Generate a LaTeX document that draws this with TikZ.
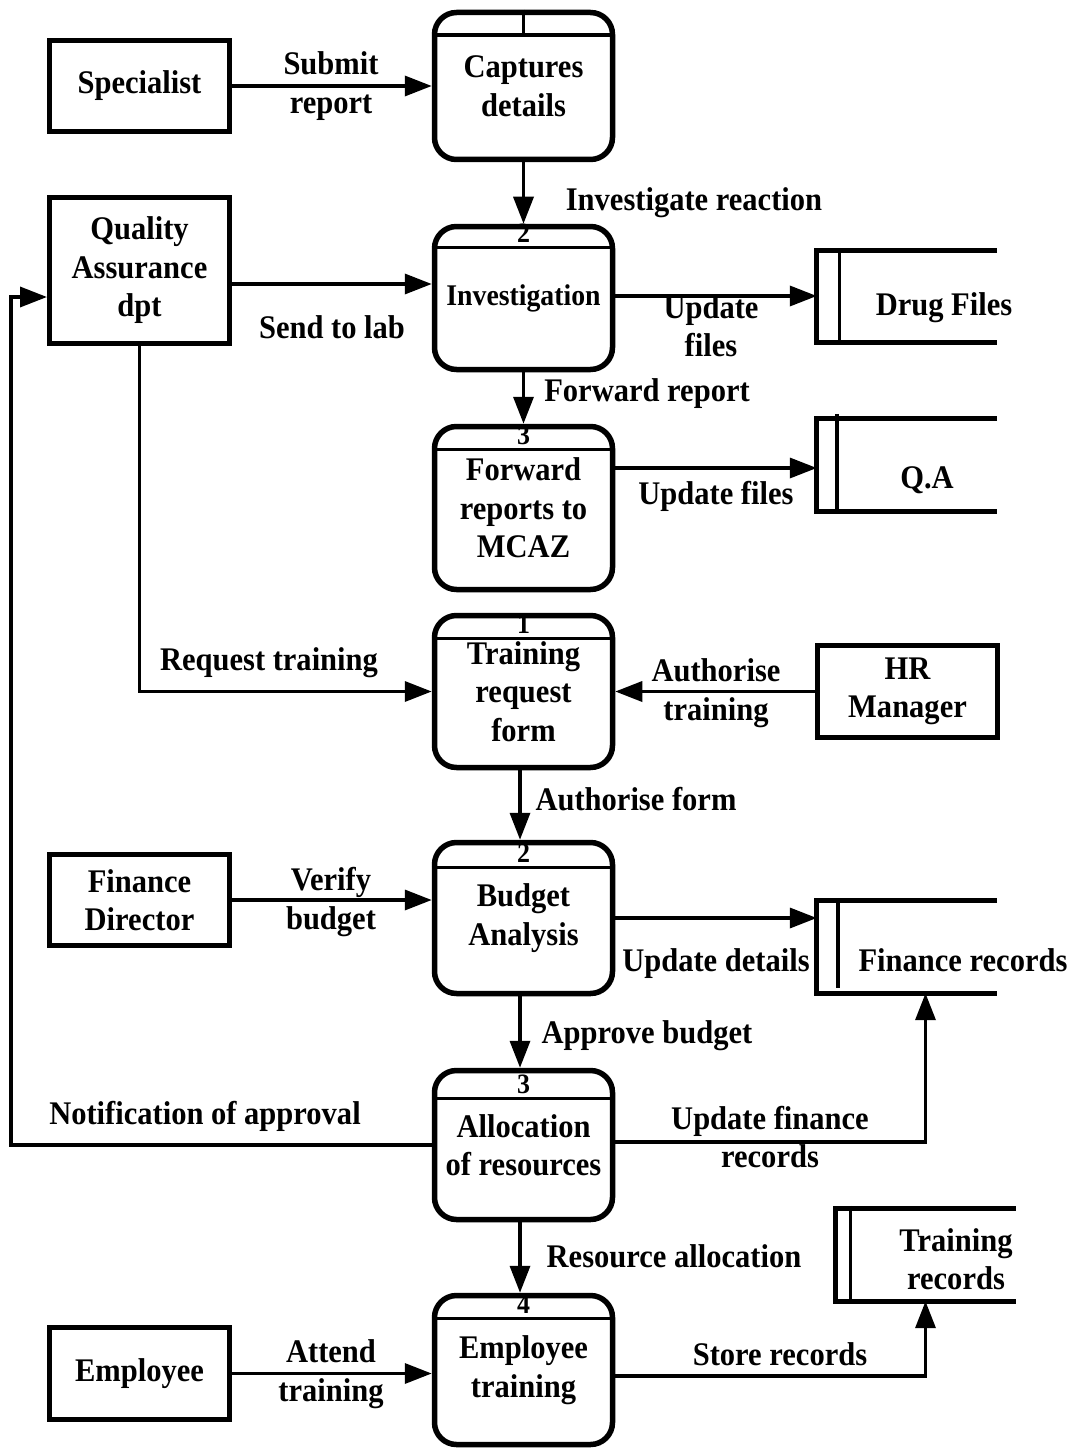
\documentclass[tikz,border=0pt]{standalone}
\usepackage{fontspec}
\setmainfont[FakeStretch=0.925]{Liberation Serif}
\usetikzlibrary{arrows.meta,calc}

\tikzset{
  txt/.style={font=\bfseries\fontsize{33}{38.5}\selectfont, align=center, inner sep=0pt},
  entity/.style={txt, draw, line width=5pt, minimum width=180pt},
  proc/.style={txt, draw, line width=5.5pt, rounded corners=22pt, minimum width=178pt},
  store/.style={draw=none, minimum width=180pt, minimum height=92pt, inner sep=0pt},
  storeline/.style={line width=5pt},
  divider/.style={line width=3.5pt},
  num/.style={font=\bfseries\fontsize{28}{30}\selectfont, inner sep=0pt, anchor=base},
  flow/.style={line width=3.5pt, -{Triangle[length=27pt,width=20pt]}},
  lbl/.style={txt}
}

\begin{document}
\begin{tikzpicture}[x=1pt, y=-1pt]
\useasboundingbox (0,0) rectangle (1081,1450);

% ---------- external entities ----------
\node[entity, minimum height=91pt]  (spec) at (139.5,86)  {Specialist};
\node[entity, minimum height=146pt] (qad)  at (139.5,270.5) {Quality\\Assurance\\dpt};
\node[entity, minimum height=92pt]  (hr)   at (907.5,691.5) {HR\\Manager};
\node[entity, minimum height=91pt]  (fd)   at (139.5,900) {Finance\\Director};
\node[entity, minimum height=92pt]  (emp)  at (139.5,1373.5) {Employee};

% ---------- processes ----------
\node[proc, minimum height=147pt] (p1) at (523.5,86)   {Captures\\details};
\node[proc, minimum height=143pt, font=\bfseries\fontsize{30}{36}\selectfont] (p2) at (523.5,298) {Investigation};
\node[proc, minimum height=163pt] (p3) at (523.5,508)  {Forward\\reports to\\MCAZ};
\node[proc, minimum height=152pt] (tr) at (523.5,691.5) {Training\\request\\form};
\node[proc, minimum height=151pt] (bud) at (523.5,918) {Budget\\Analysis};
\node[proc, minimum height=149pt] (al) at (523.5,1145)  {Allocation\\of resources};
\node[proc, minimum height=149pt] (et) at (523.5,1370)  {Employee\\training};

% header dividers and process numbers
\draw[divider] ($(p1.north west)+(0,25.5)$) -- ($(p1.north east)+(0,25.5)$);
\draw[divider] (p1.north) -- ($(p1.north)+(0,25.5)$);
\foreach \p/\d/\n in {p2/23.5/2, p3/25.5/3, tr/25.5/1, bud/27.5/2, al/30.5/3, et/25.5/4}{
  \draw[divider] ($(\p.north west)+(0,\d)$) -- ($(\p.north east)+(0,\d)$);
  \node[num] (\p num) at ($(\p.north)+(0,\d-4.5)$) {\n};
}

% ---------- data stores ----------
\node[store] (df)  at (907,296.5) {};
\node[store] (qas) at (907,465) {};
\node[store] (fr)  at (907,947) {};
\node[store] (trs) at (925.5,1255) {};

\foreach \s in {df, qas, fr, trs}{
  \draw[storeline] (\s.north east) -- (\s.north west) -- (\s.south west) -- (\s.south east);
}
\draw[divider] ($(df.north west)+(22.5,0)$) -- ($(df.south west)+(22.5,0)$);
\draw[divider] ($(qas.north west)+(20,-5)$) -- ($(qas.south west)+(20,0)$);
\draw[divider] ($(fr.north west)+(21,0)$) -- ($(fr.south west)+(21,-5)$);
\draw[divider] ($(trs.north west)+(15,-3)$) -- ($(trs.south west)+(15,0)$);

\node[txt] (dfT)  at (944,308)  {Drug Files};
\node[txt] (qasT) at (927,480)  {Q.A};
\node[txt] (frT)  at (963,960)  {Finance records};
\node[txt] (trsT) at (956,1259) {Training\\records};

% ---------- flow start points ----------
\coordinate (qadOut) at ($(qad.east)+(0,13.5)$);
\coordinate (p2Out)  at ($(p2.east)+(0,-2)$);
\coordinate (p3Out)  at ($(p3.east)+(0,-40)$);
\coordinate (alOut)  at ($(al.east)+(0,-3)$);
\coordinate (etOut)  at ($(et.east)+(0,6)$);
\coordinate (frIn)   at ($(fr.south)+(18.5,0)$);
\coordinate (qadIn)  at ($(qad.west)+(0,26.5)$);
\coordinate (loop)   at (11,1145);

% ---------- data flows ----------
\draw[flow] (spec) -- (p1);
\draw[flow] (p1) -- (p2);
\draw[flow] (qadOut) -- (qadOut -| p2.west);
\draw[flow] (p2Out) -- (p2Out -| df.west);
\draw[flow] (p2) -- (p3);
\draw[flow] (p3Out) -- (p3Out -| qas.west);
\draw[flow] (qad.south) |- (tr.west);
\draw[flow] (hr.west) -- (hr.west -| tr.east);
\draw[flow] ($(tr.south)+(-3.5,0)$) -- ($(bud.north)+(-3.5,0)$);
\draw[flow] (fd.east) -- (fd.east -| bud.west);
\draw[flow] (bud.east) -- (bud.east -| fr.west);
\draw[flow] ($(bud.south)+(-3.5,0)$) -- ($(al.north)+(-3.5,0)$);
\draw[flow] (al.west) -- (loop) |- (qadIn);
\draw[flow] (alOut) -| (frIn);
\draw[flow] ($(al.south)+(-3.5,0)$) -- ($(et.north)+(-3.5,0)$);
\draw[flow] (emp.east) -- (emp.east -| et.west);
\draw[flow] (etOut) -| (trs.south);

% ---------- flow labels ----------
\node[lbl] (l1)  at (331,86)   {Submit\\report};
\node[lbl] (l2)  at (694,203)  {Investigate reaction};
\node[lbl] (l3)  at (332,327)  {Send to lab};
\node[lbl] (l4)  at (711,326)  {Update\\files};
\node[lbl] (l5)  at (647,394)  {Forward report};
\node[lbl] (l6)  at (716,496)  {Update files};
\node[lbl] (l7)  at (269,663)  {Request training};
\node[lbl] (l8)  at (716,693)  {Authorise\\training};
\node[lbl] (l9)  at (636,799)  {Authorise form};
\node[lbl] (l10) at (331,902)  {Verify\\budget};
\node[lbl] (l11) at (716,964)  {Update details};
\node[lbl] (l12) at (647,1036) {Approve budget};
\node[lbl] (l13) at (205,1116) {Notification of approval};
\node[lbl] (l14) at (770,1137) {Update finance\\records};
\node[lbl] (l15) at (674,1256) {Resource allocation};
\node[lbl] (l16) at (331,1374) {Attend\\training};
\node[lbl] (l17) at (780,1354) {Store records};
\end{tikzpicture}
\end{document}
